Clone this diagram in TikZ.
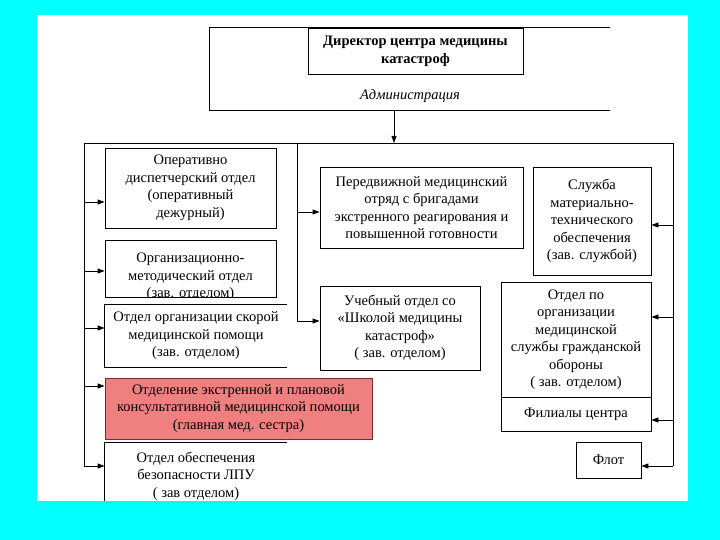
\documentclass[tikz,border=0pt]{standalone}
\usepackage{fontspec}
\setmainfont{Liberation Serif}
\usepackage{tikz}
\usetikzlibrary{calc, positioning, arrows.meta}
\definecolor{framecyan}{HTML}{00FFFF}
\definecolor{deptpink}{HTML}{F08080}
\definecolor{deptred}{HTML}{7A2A2A}

\begin{document}
\begin{tikzpicture}[
  x=1pt, y=-1pt,
  unit/.style={draw, fill=white, line width=0.8pt, inner sep=0pt, align=center, font=\fontsize{14.5}{17.5}\selectfont},
  openbox/.style={unit, draw=none},
  chief/.style={unit, font=\fontsize{14.5}{18}\selectfont\bfseries},
  alert/.style={unit, fill=deptpink, draw=deptred},
  wire/.style={line width=0.8pt},
  arr/.style={-{Triangle[length=7pt, width=5pt]}, line width=0.8pt}
]
\useasboundingbox (0,0) rectangle (720,540);

% administration
\node[openbox, minimum width=400, minimum height=82] (admin) at (410,69) {};
\draw[wire] (admin.north east) -- (admin.north west) -- (admin.south west) -- (admin.south east);
\node[chief, minimum width=215, minimum height=46] (dir) at (415.5,51) {Директор центра медицины\\катастроф};
\node[font=\fontsize{14.5}{17}\selectfont\itshape] (admlabel) at (410,96) {Администрация};

% left column
\node[unit, minimum width=171, minimum height=80] (oper) at (190.5,188) {Оперативно\\диспетчерский отдел\\(оперативный\\дежурный)};
\node[unit, minimum width=171, minimum height=57] (metod) at (190.5,268.5) {};
\begin{scope}
  \clip (metod.north west) rectangle (metod.south east);
  \node[openbox, fill=none] (metodtxt) at (190.5,277) {Организационно-\\методический отдел\\(зав. отделом)};
\end{scope}
\node[openbox, minimum width=182, minimum height=62] (skor) at (196,336) {Отдел организации скорой\\медицинской помощи\\(зав. отделом)};
\draw[wire] (skor.north east) -- (skor.north west) -- (skor.south west) -- (skor.south east);
\node[alert, minimum width=267, minimum height=61] (konsult) at (238.5,408.5) {Отделение экстренной и плановой\\консультативной медицинской помощи\\(главная мед. сестра)};
\node[openbox, minimum width=182, minimum height=66] (bezop) at (196,476) {Отдел обеспечения\\безопасности ЛПУ\\( зав отделом)};
\draw[wire] (bezop.north east) -- (bezop.north west) -- (bezop.south west);

% middle column
\node[unit, minimum width=203, minimum height=81] (otryad) at (421.5,207.5) {Передвижной медицинский\\отряд с бригадами\\экстренного реагирования и\\повышенной готовности};
\node[unit, minimum width=160, minimum height=84] (ucheb) at (400,328) {Учебный отдел со\\«Школой медицины\\катастроф»\\( зав. отделом)};

% right column
\node[unit, minimum width=118, minimum height=108] (snab) at (592,221) {Служба\\материально-\\технического\\обеспечения\\(зав. службой)};
\node[unit, minimum width=150, minimum height=115] (grob) at (576,339.5) {Отдел по\\организации\\медицинской\\службы гражданской\\обороны\\( зав. отделом)};
\node[unit, minimum width=150, minimum height=34] (filial) at (576,414) {Филиалы центра};
\node[unit, minimum width=65, minimum height=36] (flot) at (608.5,460) {Флот};

% bus lines
\coordinate (tl) at (84,143);
\coordinate (tr) at (673,143);
\coordinate (bl) at (84,466);
\coordinate (br) at (673,466);
\coordinate (tm) at (297,143);
\coordinate (bm) at (297,321);
\coordinate (hub) at (394,143);
\draw[wire] (bl) -- (tl) -- (tr) -- (br);
\draw[wire] (tm) -- (bm);
\draw[arr] (admin.south -| hub) -- (hub);

\foreach \n/\y in {oper/202, metod/271, skor/328, konsult/386, bezop/466} {
  \coordinate (jl-\n) at (84,\y);
  \draw[arr] (jl-\n) -- (jl-\n -| \n.west);
}
\foreach \n/\y in {otryad/212, ucheb/321} {
  \coordinate (jm-\n) at (297,\y);
  \draw[arr] (jm-\n) -- (jm-\n -| \n.west);
}
\foreach \n/\y in {snab/225, grob/317, filial/420, flot/466} {
  \coordinate (jr-\n) at (673,\y);
  \draw[arr] (jr-\n) -- (jr-\n -| \n.east);
}

% frame
\fill[framecyan, even odd rule] (0,0) rectangle (720,540) (37,15) rectangle (688,501);
\end{tikzpicture}
\end{document}
